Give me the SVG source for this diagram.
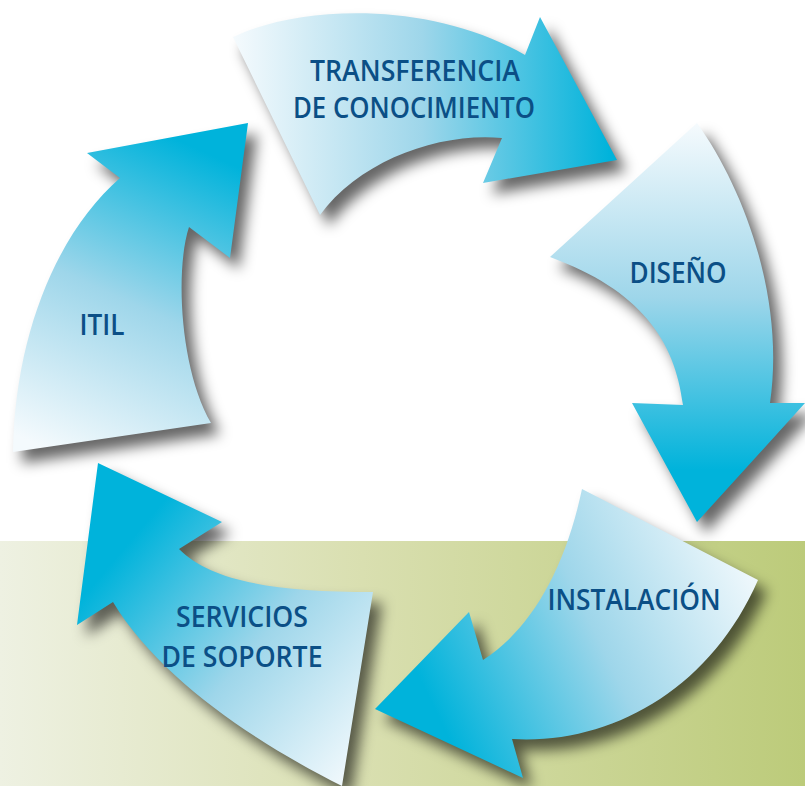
<svg xmlns="http://www.w3.org/2000/svg" xmlns:xlink="http://www.w3.org/1999/xlink" width="805" height="786" viewBox="0 0 805 786">
<style>
.lbl{font-family:"Open Sans","Liberation Sans",sans-serif;font-weight:600;font-size:29px;fill:#0b4f86;text-anchor:middle}
</style>
<defs>
<linearGradient id="bg" x1="0" y1="0" x2="805" y2="0" gradientUnits="userSpaceOnUse">
<stop offset="0" stop-color="#eef1e2"/><stop offset="0.45" stop-color="#d9dfb0"/><stop offset="1" stop-color="#bccb7a"/>
</linearGradient>
<linearGradient id="g1" x1="235" y1="0" x2="610" y2="0" gradientUnits="userSpaceOnUse">
<stop offset="0" stop-color="#f4fafd"/><stop offset="0.5" stop-color="#9ed6ea"/><stop offset="1" stop-color="#00b3db"/>
</linearGradient>
<linearGradient id="g2" x1="0" y1="125" x2="0" y2="470" gradientUnits="userSpaceOnUse">
<stop offset="0" stop-color="#f4fafd"/><stop offset="0.5" stop-color="#9ed6ea"/><stop offset="1" stop-color="#00b3db"/>
</linearGradient>
<linearGradient id="g3" x1="760" y1="565" x2="440" y2="720" gradientUnits="userSpaceOnUse">
<stop offset="0" stop-color="#f4fafd"/><stop offset="0.5" stop-color="#9ed6ea"/><stop offset="1" stop-color="#00b3db"/>
</linearGradient>
<linearGradient id="g4" x1="360" y1="775" x2="110" y2="565" gradientUnits="userSpaceOnUse">
<stop offset="0" stop-color="#f4fafd"/><stop offset="0.5" stop-color="#9ed6ea"/><stop offset="1" stop-color="#00b3db"/>
</linearGradient>
<linearGradient id="g5" x1="60" y1="455" x2="200" y2="150" gradientUnits="userSpaceOnUse">
<stop offset="0" stop-color="#f4fafd"/><stop offset="0.5" stop-color="#9ed6ea"/><stop offset="1" stop-color="#00b3db"/>
</linearGradient>
<filter id="sh" x="-20%" y="-20%" width="140%" height="140%">
<feGaussianBlur stdDeviation="7"/>
</filter>
<path id="a1" d="M233,37 C300,5 430,0 525,55 L540,17 L617,160 L483,183 L502,138 C440,132 360,160 320,215 Z"/>
<path id="a2" d="M697,123 C745,190 785,300 770,403 L805,403 L697,522 L632,403 L683,405 C675,340 640,290 550,257 Z"/>
<path id="a3" d="M582,489 L758,580 C710,690 610,745 512,739 L523,778 L375,709 L469,612 L483,660 C530,630 565,570 582,489 Z"/>
<path id="a4" d="M373,592 L342,786 C260,745 160,680 113,602 L77,625 L98,463 L222,522 L179,549 C210,580 270,592 373,592 Z"/>
<path id="a5" d="M13,452 C15,330 60,230 120,178 L87,153 L248,123 L230,258 L189,227 C175,270 180,370 211,423 Z"/>
</defs>
<rect x="0" y="0" width="805" height="786" fill="#ffffff"/>
<rect x="0" y="541" width="805" height="245" fill="url(#bg)"/>
<g id="shadows" filter="url(#sh)" fill="#000" fill-opacity="0.6" transform="translate(9,11)">
<use xlink:href="#a1"/><use xlink:href="#a2"/><use xlink:href="#a3"/><use xlink:href="#a4"/><use xlink:href="#a5"/>
</g>
<g id="connectors"></g>
<g id="n1"><use xlink:href="#a1" fill="url(#g1)"/>
<text class="lbl" x="415" y="81" textLength="210" lengthAdjust="spacingAndGlyphs">TRANSFERENCIA</text>
<text class="lbl" x="414" y="118" textLength="242" lengthAdjust="spacingAndGlyphs">DE CONOCIMIENTO</text></g>
<g id="n2"><use xlink:href="#a2" fill="url(#g2)"/>
<text class="lbl" x="678" y="283" textLength="97" lengthAdjust="spacingAndGlyphs">DISEÑO</text></g>
<g id="n3"><use xlink:href="#a3" fill="url(#g3)"/>
<text class="lbl" x="634" y="610" textLength="173" lengthAdjust="spacingAndGlyphs">INSTALACIÓN</text></g>
<g id="n4"><use xlink:href="#a4" fill="url(#g4)"/>
<text class="lbl" x="242" y="627" textLength="132" lengthAdjust="spacingAndGlyphs">SERVICIOS</text>
<text class="lbl" x="242" y="667" textLength="161" lengthAdjust="spacingAndGlyphs">DE SOPORTE</text></g>
<g id="n5"><use xlink:href="#a5" fill="url(#g5)"/>
<text class="lbl" x="102" y="335" textLength="45" lengthAdjust="spacingAndGlyphs">ITIL</text></g>
</svg>
